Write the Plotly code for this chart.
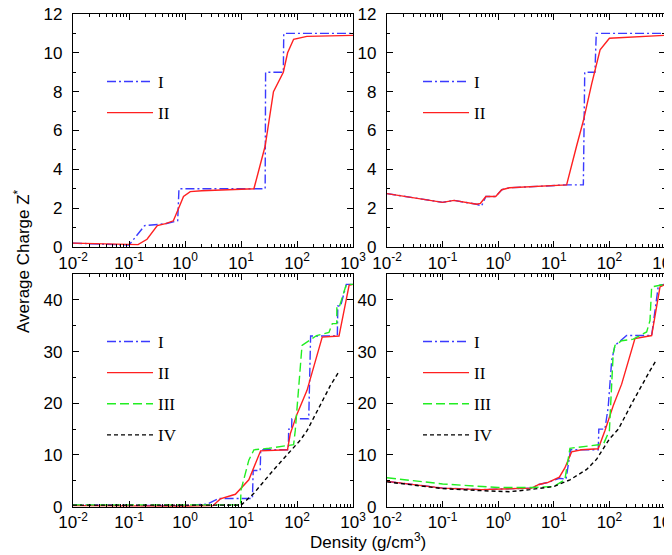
import plotly.graph_objects as go

# ---- data (density in g/cm^3, average charge Z*) ----
# top-left panel
tl_I_x = [0.01, 0.1, 0.19, 0.45, 0.74, 0.78, 27, 27.5, 57, 58, 1000]
tl_I_y = [0.2, 0.1, 1.1, 1.2, 1.35, 3.0, 3.0, 9.0, 9.0, 11.0, 11.0]
tl_II_x = [0.01, 0.05, 0.1, 0.145, 0.21, 0.32, 0.45, 0.62, 0.77, 0.94, 1.24, 2, 17, 27, 38, 57, 68, 87, 150, 1000]
tl_II_y = [0.2, 0.15, 0.12, 0.12, 0.4, 1.1, 1.2, 1.35, 2.0, 2.6, 2.85, 2.9, 3.0, 5.2, 8.0, 9.0, 10.0, 10.7, 10.85, 10.9]

# top-right panel
tr_I_x = [0.01, 0.1, 0.16, 0.41, 0.5, 0.6, 0.9, 1.16, 1.6, 17, 34, 36, 55, 58, 1000]
tr_I_y = [2.75, 2.3, 2.4, 2.2, 2.1, 2.6, 2.6, 2.95, 3.05, 3.2, 3.2, 9.0, 9.0, 11.0, 11.0]
tr_II_x = [0.01, 0.1, 0.16, 0.41, 0.48, 0.6, 0.9, 1.16, 1.6, 17, 25.7, 34, 48, 68, 100, 1000]
tr_II_y = [2.75, 2.3, 2.4, 2.2, 2.25, 2.6, 2.6, 2.95, 3.05, 3.2, 5.2, 6.5, 8.4, 10.15, 10.75, 10.9]

# bottom-left panel
bl_I_x = [0.01, 0.1, 1, 2.5, 4, 16, 16.5, 22, 22.5, 70, 71, 80, 81, 162, 175, 525, 535, 600, 760, 1000]
bl_I_y = [0.3, 0.25, 0.2, 0.5, 1.6, 1.6, 7, 7, 11, 11, 15, 15, 17, 17, 33, 33, 38.8, 38.8, 43, 43]
bl_II_x = [0.01, 0.1, 1, 3.16, 4.27, 7.94, 13.8, 22.4, 67.6, 75.9, 100, 151, 282, 562, 851, 1000]
bl_II_y = [0.2, 0.1, 0.1, 0.2, 1.5, 2.4, 5.2, 10.8, 11.0, 14.1, 17.9, 22.5, 32.8, 33.0, 42.8, 43]
bl_III_x = [0.01, 1, 9.8, 10, 13.8, 17, 31.6, 87, 93, 123, 162, 224, 372, 427, 513, 515, 575, 760, 1000]
bl_III_y = [0.35, 0.35, 0.35, 3.2, 9.0, 11.0, 11.3, 12.0, 14.7, 31.2, 32.1, 33.1, 33.7, 35.4, 35.4, 38.8, 38.8, 43, 43]
bl_IV_x = [0.01, 1, 10, 10.5, 17, 38, 115, 151, 245, 398, 575]
bl_IV_y = [0.3, 0.3, 0.3, 0.5, 2.6, 7.1, 12.9, 14.7, 19.2, 23.5, 26.3]

# bottom-right panel
br_I_x = [0.01, 0.1, 0.5, 2, 4, 5.4, 7.9, 12.6, 15.5, 16.6, 20, 63, 64.5, 83, 95, 110, 126, 204, 575, 760, 1000]
br_I_y = [4.9, 3.6, 3.3, 3.5, 3.6, 4.3, 4.7, 5.5, 5.3, 5.3, 11.0, 11.0, 15.0, 15.0, 19.2, 28.3, 31.2, 33.1, 33.1, 42.8, 43]
br_II_x = [0.01, 0.1, 0.5, 2, 4, 5.4, 7.9, 12.6, 15.8, 20.9, 31.6, 63, 83, 117, 166, 288, 575, 813, 1000]
br_II_y = [4.9, 3.6, 3.3, 3.5, 3.6, 4.3, 4.7, 5.7, 7.5, 10.6, 11.0, 11.2, 14.7, 19.5, 23.7, 32.5, 33.1, 42.5, 43]
br_III_x = [0.01, 0.1, 1, 4, 10, 15.8, 19.5, 31.6, 78, 100, 117, 126, 166, 269, 468, 537, 575, 1000]
br_III_y = [5.6, 4.4, 3.7, 3.7, 3.9, 5.2, 11.3, 11.6, 12.1, 14.7, 29.6, 31.2, 32.1, 32.4, 33.8, 36.0, 42.5, 43]
br_IV_x = [0.01, 0.1, 0.5, 1.6, 3.7, 10, 19.5, 39, 59, 100, 145, 269, 537, 692]
br_IV_y = [4.8, 3.5, 3.1, 2.9, 3.3, 3.9, 5.2, 7.2, 9.2, 13.1, 15.0, 20.5, 26.3, 28.3]

x_tickvals = [0.01, 0.1, 1, 10, 100, 1000]
x_ticktext = ["10<sup>-2</sup>", "10<sup>-1</sup>", "10<sup>0</sup>",
              "10<sup>1</sup>", "10<sup>2</sup>", "10<sup>3</sup>"]
x_minor = [m * 10.0 ** e for e in range(-2, 3) for m in range(2, 10)]

styles = {
    "I": dict(color="#3a3aff", dash="9px,3px,2px,3px"),
    "II": dict(color="#ff2020", dash="solid"),
    "III": dict(color="#22ee22", dash="9px,4px"),
    "IV": dict(color="black", dash="4px,3px"),
}

panels = [
    (1, 1, "legend", [("I", tl_I_x, tl_I_y), ("II", tl_II_x, tl_II_y)]),
    (1, 2, "legend2", [("I", tr_I_x, tr_I_y), ("II", tr_II_x, tr_II_y)]),
    (2, 1, "legend3", [("I", bl_I_x, bl_I_y), ("II", bl_II_x, bl_II_y),
                       ("III", bl_III_x, bl_III_y), ("IV", bl_IV_x, bl_IV_y)]),
    (2, 2, "legend4", [("I", br_I_x, br_I_y), ("II", br_II_x, br_II_y),
                       ("III", br_III_x, br_III_y), ("IV", br_IV_x, br_IV_y)]),
]

# the page body adds an 8px margin, so the figure is 8px smaller on each axis
W, H = 664, 547
xdom = {1: [65 / W, 345 / W], 2: [379 / W, 657 / W]}
ydom = {1: [1 - 239 / H, 1 - 6 / H], 2: [1 - 498.7 / H, 1 - 266 / H]}

fig = go.Figure()
layout = dict(
    width=W, height=H,
    margin=dict(l=0, r=0, t=0, b=0),
    plot_bgcolor="white", paper_bgcolor="white",
    font=dict(family="Liberation Sans, Arial, sans-serif", size=17, color="black"),
)

for i, (r, c, leg, series) in enumerate(panels):
    n = i + 1
    xa = "x" if n == 1 else f"x{n}"
    ya = "y" if n == 1 else f"y{n}"
    for name, xs, ys in series:
        st = styles[name]
        fig.add_trace(go.Scatter(
            x=xs, y=ys, mode="lines", name=name,
            line=dict(color=st["color"], dash=st["dash"], width=1.4),
            xaxis=xa, yaxis=ya, legend=leg, legendgroup=f"{leg}{name}",
        ))
    axis_common = dict(showline=True, linecolor="black", linewidth=1.3, mirror="ticks",
                       ticks="inside", ticklen=6, tickcolor="black", tickwidth=1,
                       showgrid=False, zeroline=False, automargin=False,
                       ticklabeloverflow="allow")
    layout["xaxis" if n == 1 else f"xaxis{n}"] = dict(
        axis_common, type="log", range=[-2, 3], domain=xdom[c], anchor=ya,
        tickvals=x_tickvals, ticktext=x_ticktext,
        minor=dict(ticks="inside", ticklen=3, tickcolor="black", tickvals=x_minor),
    )
    if r == 1:
        yax = dict(range=[0, 12], tickvals=[0, 2, 4, 6, 8, 10, 12],
                   minor=dict(ticks="inside", ticklen=3, tickcolor="black", dtick=1))
    else:
        yax = dict(range=[0, 45], tickvals=[0, 10, 20, 30, 40],
                   minor=dict(ticks="inside", ticklen=3, tickcolor="black", dtick=5))
    layout["yaxis" if n == 1 else f"yaxis{n}"] = dict(
        axis_common, domain=ydom[r], anchor=xa, ticklabelstandoff=6, **yax)
    legx = 94 / W if c == 1 else 410 / W
    layout[leg] = dict(
        x=legx, y=1 - 56 / H if r == 1 else 1 - 316 / H,
        xanchor="left", yanchor="top", bgcolor="rgba(0,0,0,0)",
        font=dict(family="Liberation Serif, Times New Roman, serif", size=17),
        tracegroupgap=6, traceorder="grouped", itemwidth=46,
    )

layout["annotations"] = [
    dict(text="Average Charge Z<sup>*</sup>", textangle=-90, x=14 / W, y=1 - 253 / H,
         xanchor="center", yanchor="middle",
         xref="paper", yref="paper", showarrow=False, font=dict(size=17)),
    dict(text="Density (g/cm<sup>3</sup>)", x=360 / W, y=1 - 533 / H,
         xanchor="center", yanchor="middle",
         xref="paper", yref="paper", showarrow=False, font=dict(size=17)),
]

fig.update_layout(**layout)
fig.write_html("out.html")
